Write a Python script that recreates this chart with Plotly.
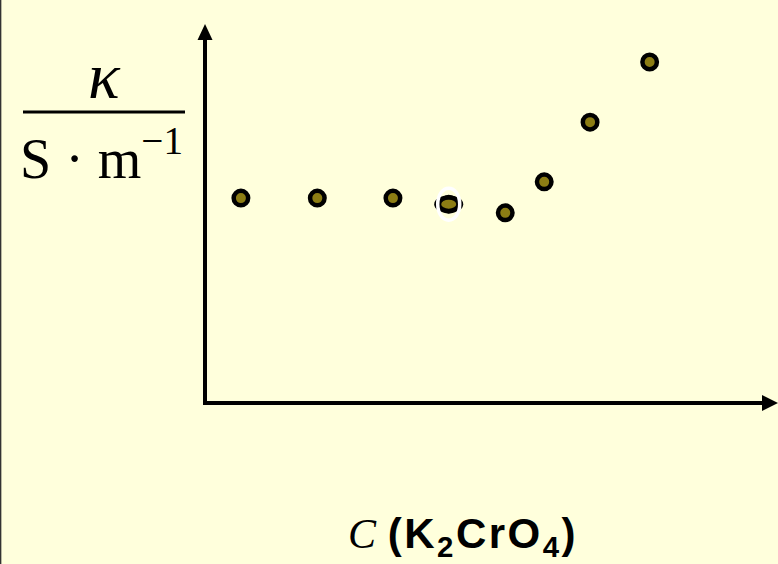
import plotly.graph_objects as go

# Data (arbitrary units, no tick labels in original)
conc = [0.97, 1.97, 2.96, 3.69, 4.43, 4.94, 5.54, 6.32]
kappa = [5.42, 5.42, 5.42, 5.26, 5.03, 5.85, 7.43, 9.02]
highlight_index = 3

W, H = 778, 564
ML, MR, MT, MB = 205, 0, 25, 161
PW, PH = W - ML - MR, H - MT - MB


def px_x(p):
    return (p - ML) / PW


def px_y(p):
    return (H - MB - p) / PH


OLIVE = "#8C7D14"
BG = "#FFFFDC"

fig = go.Figure()
fig.add_trace(go.Scatter(
    x=conc, y=kappa, mode="markers",
    marker=dict(size=14.5, color=OLIVE, line=dict(color="black", width=4.5)),
    cliponaxis=False, hoverinfo="skip", showlegend=False,
))

shapes = []
# axes shafts
shapes.append(dict(type="line", xref="paper", yref="paper",
                   x0=0, y0=px_y(405), x1=0, y1=px_y(39),
                   line=dict(color="black", width=4)))
shapes.append(dict(type="line", xref="paper", yref="paper",
                   x0=px_x(203), y0=0, x1=px_x(764), y1=0,
                   line=dict(color="black", width=4)))
# arrow heads
shapes.append(dict(type="path", xref="paper", yref="paper",
                   path=f"M {px_x(197.5)} {px_y(40)} L {px_x(205)} {px_y(24)} L {px_x(212.5)} {px_y(40)} Z",
                   fillcolor="black", line=dict(width=0)))
shapes.append(dict(type="path", xref="paper", yref="paper",
                   path=f"M {px_x(762)} {px_y(395)} L {px_x(778)} {px_y(403)} L {px_x(762)} {px_y(411)} Z",
                   fillcolor="black", line=dict(width=0)))
# fraction bar of the y label
shapes.append(dict(type="line", xref="paper", yref="paper",
                   x0=px_x(23), y0=px_y(112), x1=px_x(185), y1=px_y(112),
                   line=dict(color="black", width=3)))
# left border line
shapes.append(dict(type="line", xref="paper", yref="paper",
                   x0=px_x(0.6), y0=px_y(0), x1=px_x(0.6), y1=px_y(564),
                   line=dict(color="#333333", width=1.5)))

# distorted / selected point overlay
hx, hy = conc[highlight_index], kappa[highlight_index]
common = dict(type="circle", xref="x", yref="y", xsizemode="pixel", ysizemode="pixel",
              xanchor=hx, yanchor=hy, layer="above")
shapes.append(dict(common, x0=-14.5, x1=14.5, y0=-9, y1=9, fillcolor="black", line=dict(width=0)))
shapes.append(dict(common, x0=-7.5, x1=7.5, y0=-4.5, y1=4.5, fillcolor=OLIVE, line=dict(width=0)))
shapes.append(dict(common, x0=-11, x1=11, y0=-16, y1=16, fillcolor="rgba(0,0,0,0)",
                   line=dict(color="white", width=3.5)))

annotations = [
    dict(xref="paper", yref="paper", x=px_x(104), y=px_y(75), xanchor="center", yanchor="middle",
         text="<i>κ</i>", showarrow=False,
         font=dict(family="Liberation Serif", size=66, color="black")),
    dict(xref="paper", yref="paper", x=px_x(101), y=px_y(154), xanchor="center", yanchor="middle",
         text="S · m<sup>−1</sup>", showarrow=False,
         font=dict(family="Liberation Serif", size=56, color="black")),
    dict(xref="paper", yref="paper", x=px_x(463), y=px_y(536), xanchor="center", yanchor="middle",
         text="<span style='font-family:Liberation Serif'><i>C</i></span> "
              "<span style='letter-spacing:2.5px'><b>(K<sub>2</sub>CrO<sub>4</sub>)</b></span>",
         showarrow=False,
         font=dict(family="Liberation Sans", size=42, color="black")),
]

fig.update_layout(
    width=W, height=H,
    margin=dict(l=ML, r=MR, t=MT, b=MB),
    paper_bgcolor=BG, plot_bgcolor=BG,
    shapes=shapes, annotations=annotations,
    xaxis=dict(range=[0.5, 8.0], showgrid=False, zeroline=False, showticklabels=False,
               ticks="", showline=False, fixedrange=True),
    yaxis=dict(range=[0, 10], showgrid=False, zeroline=False, showticklabels=False,
               ticks="", showline=False, fixedrange=True),
    showlegend=False,
)

fig.write_html("out.html", config={"displayModeBar": False},
               post_script="document.body.style.margin='0';document.body.style.overflow='hidden';")
